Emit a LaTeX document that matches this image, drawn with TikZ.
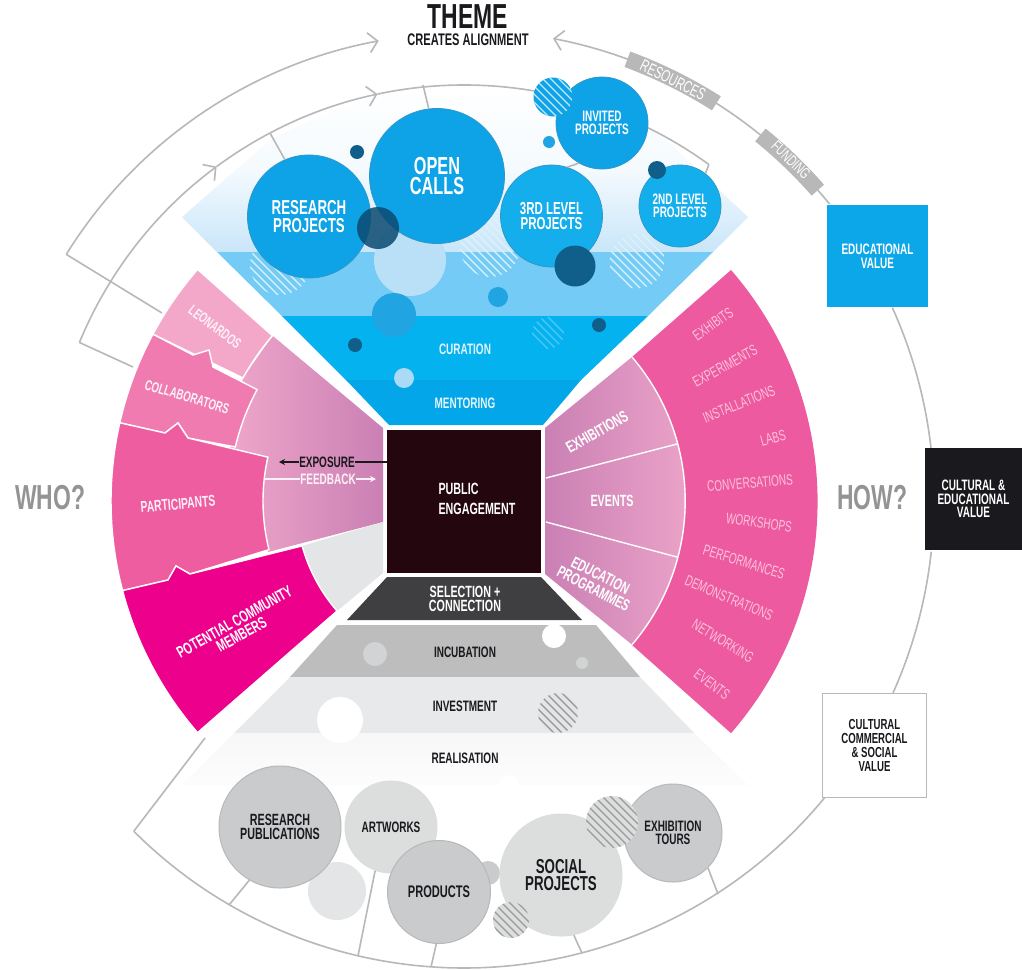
\documentclass[tikz,border=0pt]{standalone}
\usepackage{fontspec}
\setmainfont{Liberation Sans}[Scale=1.12,FakeStretch=0.66]
\usetikzlibrary{calc,arrows.meta}
\definecolor{ring}{HTML}{B8B8B8}
\definecolor{blueA}{HTML}{0EA2E6}
\definecolor{blueB}{HTML}{14AEEC}
\definecolor{layA}{HTML}{C9E6F9}
\definecolor{layB}{HTML}{74CBF5}
\definecolor{layC}{HTML}{05B2F0}
\definecolor{layD}{HTML}{03A6E8}
\definecolor{darkblue}{HTML}{0F5F8A}
\definecolor{midblue}{HTML}{20A5E2}
\definecolor{paleblue}{HTML}{B9E0F7}
\definecolor{mauveL}{HTML}{EEA6CA}
\definecolor{mauveD}{HTML}{CA80B4}
\definecolor{pinkLeo}{HTML}{F4A8C9}
\definecolor{pinkCol}{HTML}{F07BB0}
\definecolor{pinkPar}{HTML}{EF5DA1}
\definecolor{pinkPot}{HTML}{EC008C}
\definecolor{pinkDeep}{HTML}{EE5AA0}
\definecolor{pinkText}{HTML}{FBC4DC}
\definecolor{greyBg}{HTML}{E3E5E6}
\definecolor{greyMid}{HTML}{C9CBCC}
\definecolor{greyLt}{HTML}{DCDDDD}
\definecolor{inkdark}{HTML}{1A1A1E}
\definecolor{engageink}{HTML}{24060F}
\definecolor{selectfill}{HTML}{3F3F41}
\definecolor{incubfill}{HTML}{BDBDBD}
\definecolor{navy}{HTML}{0B4A70}
\colorlet{ballborder}{blueA!70!gray}
\newcommand\fs[2]{\fontsize{#1}{#2}\selectfont\bfseries}
\newcommand\fn[2]{\fontsize{#1}{#2}\selectfont}
\newcommand\hatch[5]{%
  \begin{scope}
    \clip (#1,#2) circle[radius=#3];
    #4
    \foreach \d in {-64,-60,...,64}
      \draw[#5,line width=1.3pt] (#1+\d-#3,#2-\d-#3) -- (#1+\d+#3,#2-\d+#3);
  \end{scope}}
\tikzset{
  ringline/.style={draw=ring,line width=1.6pt},
  chev/.style={-{Straight Barb[length=9pt,width=20pt]}},
  chevback/.style={{Straight Barb[length=9pt,width=20pt]}-},
  wedgeline/.style={draw=white,line width=1.4pt,line join=miter},
  ball/.style={circle,inner sep=0pt,align=center,text=white},
  topball/.style={ball,draw=ballborder,line width=.8pt},
  botball/.style={ball,text=inkdark,draw=ring,line width=1pt},
  dot/.style={circle,fill=darkblue,inner sep=0pt},
  lbl/.style={align=center,text=white,inner sep=0pt},
  listlbl/.style={lbl,text=pinkText,font=\fn{13.5}{15}},
  tag/.style={draw=ring,line width=16.5pt},
}
\begin{document}
\begin{tikzpicture}[x=1pt,y=-1pt]
\useasboundingbox (0,0) rectangle (1022,969);
\fill[white] (0,0) rectangle (1022,969);
\coordinate (c) at (464,501);

% ---------- top funnel
\shade[top color=white,bottom color=layA,middle color=white!80!layA]
  (182,217) -- (270,140) to[bend left=12] (464,86) to[bend left=12] (655,130) -- (748,217) -- (713,252) -- (217,252) -- cycle;
\fill[layB] (217,252) -- (713,252) -- (648,316) -- (282,316) -- cycle;
\fill[layC] (282,316) -- (648,316) -- (581,380) -- (346,380) -- cycle;
\fill[layD] (346,380) -- (581,380) -- (543,425) -- (389,425) -- cycle;

% ---------- hatched discs below the big bubbles
\hatch{280}{265}{30}{}{white!75!layB}
\hatch{490}{247}{30}{}{white!75!layB}
\hatch{637}{261}{27.5}{}{white!75!layB}
\hatch{548}{333}{16}{}{white!30!layC}

% ---------- rings
\coordinate (ringA) at ($(c)+(202.4:416)$);
\coordinate (ringB) at ($(c)+(211.8:468)$);
\draw[ringline,chev] (ringA) arc[start angle=202.4,end angle=233.5,radius=416];
\draw[ringline,chev] ($(c)+(233.5:416)$) arc[start angle=233.5,end angle=258,radius=416];
\draw[ringline] ($(c)+(258:416)$) arc[start angle=258,end angle=306,radius=416.5] coordinate (ringC);
\draw[ringline,chev] (ringB) arc[start angle=211.8,end angle=259.5,radius=468] coordinate (ringTipL);
\draw[ringline,chevback] ($(c)+(280.9:471)$) arc[start angle=280.9,end angle=320.9,radius=471];
\draw[ringline] ($(c)+(-24.3:470)$) arc[start angle=-24.3,end angle=-6.5,radius=470];
\draw[ringline] ($(c)+(6.2:470)$) arc[start angle=6.2,end angle=24.1,radius=470];
\draw[ringline] ($(c)+(39.3:467)$) arc[start angle=39.3,end angle=135,radius=467] coordinate (ringD);
\coordinate (ringE) at (205,738);
\draw[ringline] (ringD) -- (ringE);

% ---------- tags on the ring
\draw[tag] ($(c)+(-69.7:471)$) arc[start angle=-69.7,end angle=-57.6,radius=471];
\draw[tag] ($(c)+(-51:471)$) arc[start angle=-51,end angle=-41.3,radius=471];
\node[lbl,text=white,font=\fn{15}{15},rotate=-26] (resources) at (673,80) {RESOURCES};
\node[lbl,text=white,font=\fn{14}{15},rotate=-44] (funding) at (791,160) {FUNDING};

% ---------- central box
\node[fill=engageink,minimum width=154pt,minimum height=143pt,inner sep=0pt] (engage) at (464,501.5) {};
\node[lbl,align=left,font=\fs{14.5}{20}] (engagetxt) at (477,499) {PUBLIC\\ENGAGEMENT};

% ---------- right fan
\shade[left color=mauveD,right color=mauveL] (545,428) -- (632,357) arc[start angle=-40.6,end angle=40.6,radius=221] -- (545,574) -- cycle;
\fill[pinkDeep] (632,357) -- (731,270) arc[start angle=-41,end angle=41,radius=353] -- (632,645) arc[start angle=40.6,end angle=-40.6,radius=221] -- cycle;
\draw[wedgeline] (632,357) arc[start angle=-40.6,end angle=40.6,radius=221];
\draw[wedgeline] (546,478) -- (677,444);
\draw[wedgeline] (546,522) -- (677,557);
\node[lbl,font=\fs{14.5}{15},rotate=30] (exhibitions) at (597,432) {EXHIBITIONS};
\node[lbl,font=\fs{14.5}{15}] (eventsA) at (612,501) {EVENTS};
\node[lbl,font=\fs{14.5}{15},rotate=-27] (edu-prog) at (597,582) {EDUCATION\\PROGRAMMES};
\node[listlbl,rotate=35] (l1) at (713,324) {EXHIBITS};
\node[listlbl,rotate=29] (l2) at (725,366) {EXPERIMENTS};
\node[listlbl,rotate=22] (l3) at (739,404) {INSTALLATIONS};
\node[listlbl,rotate=15] (l4) at (773,438) {LABS};
\node[listlbl,rotate=5] (l5) at (750,483) {CONVERSATIONS};
\node[listlbl,rotate=-8] (l6) at (759,523) {WORKSHOPS};
\node[listlbl,rotate=-17] (l7) at (744,562) {PERFORMANCES};
\node[listlbl,rotate=-23] (l8) at (729,598) {DEMONSTRATIONS};
\node[listlbl,rotate=-31] (l9) at (723,641) {NETWORKING};
\node[listlbl,rotate=-37] (l10) at (712,684) {EVENTS};

% ---------- left fan
\shade[left color=mauveL,right color=mauveD] ($(c)+(220.8:253)$) -- (383,428) -- (383,522) -- (268,552) -- (230,450) -- ($(c)+(209.1:253)$) -- cycle;
\fill[greyBg] (383,522) -- (383,573) -- (337,611) arc[start angle=139.1,end angle=164.5,radius=168] -- cycle;
\filldraw[fill=pinkLeo,wedgeline] ($(c)+(221:353)$) -- ($(c)+(220.8:253)$) arc[start angle=220.8,end angle=209.1,radius=253] -- ($(c)+(208.2:353)$) arc[start angle=208.2,end angle=221,radius=353] -- cycle;
\filldraw[fill=pinkCol,wedgeline] ($(c)+(208.2:353)$) -- (193,355) -- (209,350) -- (213,367) -- ($(c)+(208.3:235)$) arc[start angle=208.3,end angle=193.3,radius=235] -- (188,438) -- (178,423) -- (165,433) -- ($(c)+(192.8:353)$) arc[start angle=192.8,end angle=208.2,radius=353] -- cycle;
\filldraw[fill=pinkPar,wedgeline] ($(c)+(192.8:353)$) -- (165,433) -- (178,423) -- (188,438) -- ($(c)+(192.6:201)$) arc[start angle=192.6,end angle=166,radius=201] -- (190,574) -- (176,566) -- (168,580) -- ($(c)+(165.3:353)$) arc[start angle=165.3,end angle=192.8,radius=353] -- cycle;
\filldraw[fill=pinkPot,wedgeline] ($(c)+(165.3:353)$) -- (168,580) -- (176,566) -- (190,574) -- ($(c)+(164.5:168)$) arc[start angle=164.5,end angle=139.1,radius=168] -- ($(c)+(139:353)$) arc[start angle=139,end angle=165.3,radius=353] -- cycle;
\node[lbl,text=white!85!pinkLeo,font=\fs{13}{15},rotate=-37] (leo) at (215,327) {LEONARDOS};
\node[lbl,text=white!90!pinkCol,font=\fs{13}{15},rotate=-17] (collab) at (187,397) {COLLABORATORS};
\node[lbl,text=white!90!pinkPar,font=\fs{14}{15},rotate=5] (partic) at (178,504) {PARTICIPANTS};
\node[lbl,font=\fs{14.5}{14.5},rotate=29.5] (potential) at (238,628) {POTENTIAL COMMUNITY\\MEMBERS};
\node[lbl,text=inkdark,font=\fs{13.5}{15}] (exposure) at (327,462) {EXPOSURE};
\node[lbl,text=white!90!pinkCol,font=\fs{13.5}{15}] (feedback) at (328,479) {FEEDBACK};
\coordinate (expTip) at (279,462);
\coordinate (fbTip) at (376,479);
\coordinate (fbBase) at (265,479);
\draw[line width=1.4pt,inkdark,-{Stealth[length=6pt,width=6pt]}] (exposure.west) -- (expTip);
\draw[line width=1.4pt,inkdark] (exposure.east) -- (engage.west |- exposure.east);
\draw[line width=1.4pt,white!90!pinkCol] (fbBase) -- (feedback.west);
\draw[line width=1.4pt,white!90!pinkCol,-{Stealth[length=6pt,width=6pt]}] (feedback.east) -- (fbTip);

% ---------- ticks from the left fan to the rings
\coordinate (leoEnd) at (162,313);
\coordinate (colEnd) at (133,367);
\draw[ringline] (ringB) -- (leoEnd);
\draw[ringline] (ringA) -- (colEnd);

% ---------- lower funnel
\fill[selectfill] (387,577) -- (541,577) -- (582,620) -- (347,620) -- cycle;
\fill[incubfill] (337,625) -- (596,625) -- (640,677) -- (290,677) -- cycle;
\fill[greyBg!85!white] (290,677) -- (640,677) -- (694,733) -- (234,733) -- cycle;
\shade[top color=black!3,bottom color=black!1] (234,733) -- (694,733) -- (748,785) -- (182,785) -- cycle;
\fill[white] (554,636) circle[radius=12];
\fill[greyMid!85!white] (375,654) circle[radius=12];
\fill[greyMid!85!white] (582,663) circle[radius=6];
\fill[white] (340,720) circle[radius=23];
\fill[white] (509,785) circle[radius=10];
\hatch{558}{713}{20}{\fill[greyBg] (558,713) circle[radius=20];}{black!42}
\node[lbl,font=\fs{14.5}{14.5}] (select) at (465,599) {SELECTION +\\CONNECTION};
\node[lbl,text=inkdark,font=\fs{13.5}{15}] (incub) at (465,652) {INCUBATION};
\node[lbl,text=inkdark,font=\fs{13.5}{15}] (invest) at (465,706) {INVESTMENT};
\node[lbl,text=inkdark,font=\fs{13.5}{15}] (realise) at (465,758) {REALISATION};

% ---------- bubbles, top
\fill[paleblue] (410,260) circle[radius=36];
\fill[midblue] (394,315) circle[radius=22];
\fill[midblue] (498,297) circle[radius=10];
\fill[paleblue!90!midblue] (404,378) circle[radius=10];
\fill[midblue] (549,142) circle[radius=6];
\node[lbl,text=white!88!layC,font=\fs{13.5}{15}] (curation) at (465,349) {CURATION};
\node[lbl,text=white!88!layC,font=\fs{13.5}{15}] (mentoring) at (465,403) {MENTORING};
\node[dot,minimum size=14pt] (d1) at (357,152) {};
\node[dot,minimum size=14pt] (d2) at (355,345) {};
\node[dot,minimum size=14pt] (d3) at (599,325) {};
\node[topball,fill=blueA,minimum size=123pt,font=\fs{18}{17.5}] (research) at (309,216.5) {RESEARCH\\PROJECTS};
\node[topball,fill=blueA,minimum size=135pt,font=\fs{22}{20.5}] (open) at (437,176) {OPEN\\CALLS};
\node[topball,fill=blueA,minimum size=92pt,font=\fs{13.5}{13.5}] (invited) at (602,123) {INVITED\\PROJECTS};
\node[topball,fill=blueB,minimum size=102pt,font=\fs{15.5}{14.5}] (third) at (551.5,216) {3RD LEVEL\\PROJECTS};
\node[topball,fill=blueB,minimum size=82pt,font=\fs{13.5}{13.5}] (second) at (680,206) {2ND LEVEL\\PROJECTS};
\hatch{553}{97}{19.5}{\fill[blueA] (553,97) circle[radius=19.5];}{white!75!blueA}
\node[circle,inner sep=0pt,minimum size=42pt,fill=navy,fill opacity=.85] (navyA) at (378,228) {};
\node[dot,minimum size=41pt] (navyB) at (575,266) {};
\node[dot,minimum size=18pt] (navyC) at (657,170) {};
\coordinate (tickA) at (270,133);
\coordinate (tickB) at (423,85);
\draw[ringline] (tickA) -- (research.113);
\draw[ringline] (tickB) -- (open.97);
\draw[ringline] (ringC) -- (second.52);
\draw[ringline] (invited.240) -- (third.72);

% ---------- bubbles, bottom
\fill[greyBg] (337,891) circle[radius=29];
\fill[greyMid] (488,873) circle[radius=12];
\node[botball,fill=greyLt,draw=greyLt,minimum size=92pt,font=\fs{13.5}{15}] (artworks) at (391,827) {ARTWORKS};
\node[botball,fill=greyMid,minimum size=122pt,font=\fs{14.5}{14.5}] (publications) at (280,827) {RESEARCH\\PUBLICATIONS};
\node[botball,fill=greyMid,minimum size=103pt,font=\fs{15}{17}] (products) at (439,892) {PRODUCTS};
\node[botball,fill=greyLt,draw=greyLt,minimum size=122pt,font=\fs{18}{17}] (social) at (561,875) {SOCIAL\\PROJECTS};
\node[botball,fill=greyMid,minimum size=98pt,font=\fs{13.5}{13.5}] (tours) at (673,833) {EXHIBITION\\TOURS};
\hatch{612}{822}{26}{\fill[greyLt] (612,822) circle[radius=26];}{black!40}
\hatch{511}{920}{18}{\fill[greyLt] (511,920) circle[radius=18];}{black!40}
\coordinate (b1) at (229,905);
\coordinate (b2) at (358,956);
\coordinate (b3) at (431,967);
\coordinate (b4) at (582,953);
\coordinate (b5) at (718,894);
\draw[ringline] (publications.240) -- (b1);
\draw[ringline] (artworks.250) -- (b2);
\draw[ringline] (products.267) -- (b3);
\draw[ringline] (social.282) -- (b4);
\draw[ringline] (tours.-45) -- (b5);

% ---------- value boxes
\node[fill=blueA!70!layC,minimum width=101pt,minimum height=102pt,inner sep=0pt,align=center,text=white,font=\fs{13.5}{14}] (eduvalue) at (877.5,256) {EDUCATIONAL\\VALUE};
\node[fill=inkdark,minimum width=97pt,minimum height=102pt,inner sep=0pt,align=center,text=white,font=\fs{13.5}{13.5}] (culvalue) at (973.5,499) {CULTURAL \&\\EDUCATIONAL\\VALUE};
\node[fill=white,draw=ring,line width=1.6pt,minimum width=104pt,minimum height=104pt,inner sep=0pt,align=center,text=inkdark,font=\fs{13}{13.7}] (comvalue) at (874.5,745.5) {CULTURAL\\COMMERCIAL\\\& SOCIAL\\VALUE};

% ---------- headings
\node[lbl,text=inkdark,font=\fs{31}{30}] (theme) at (468,17) {THEME};
\node[lbl,text=inkdark,font=\fs{15}{18}] (align) at (468,40) {CREATES ALIGNMENT};
\node[lbl,text=black!42,font=\fs{31}{33}] (who) at (50,498) {WHO?};
\node[lbl,text=black!42,font=\fs{31}{33}] (how) at (872,498) {HOW?};
\end{tikzpicture}
\end{document}
